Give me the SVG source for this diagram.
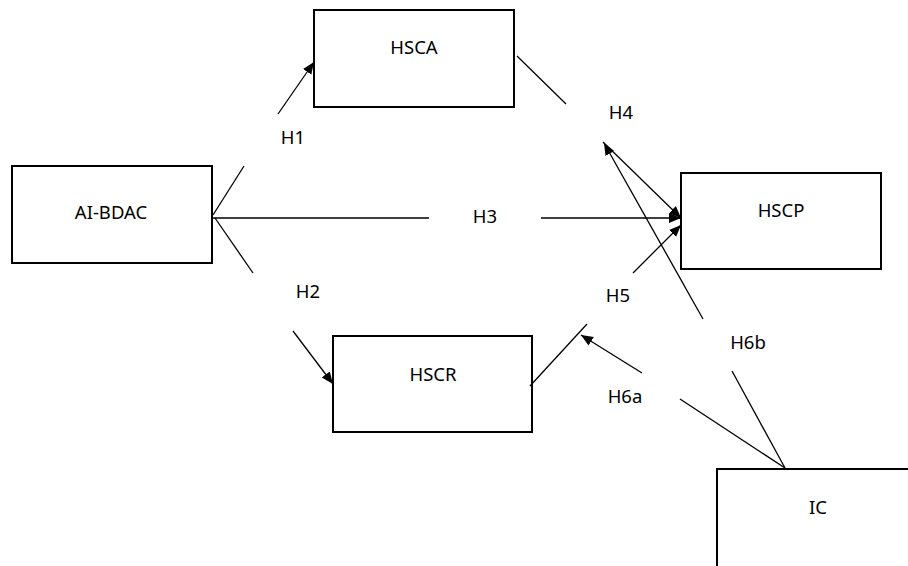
<svg xmlns="http://www.w3.org/2000/svg" width="908" height="566" viewBox="0 0 908 566">
  <style>
    .box { fill: #ffffff; stroke: #000000; stroke-width: 2; }
    .lbl { font-family: "Noto Sans", "Open Sans", "DejaVu Sans", sans-serif; font-size: 18.5px; fill: #000000; text-anchor: middle; }
    .ln { stroke: #000000; stroke-width: 1.3; fill: none; }
    .arr { marker-end: url(#ah); }
  </style>
  <defs>
    <marker id="ah" markerUnits="userSpaceOnUse" markerWidth="13" markerHeight="11" refX="12" refY="5" orient="auto">
      <path d="M0,0 L12,5 L0,10 z" fill="#000000"/>
    </marker>
  </defs>
  <rect width="908" height="566" fill="#ffffff"/>

  <g id="node-AI-BDAC">
    <rect class="box" x="12" y="166" width="200" height="97"/>
    <text class="lbl" x="111" y="219">AI-BDAC</text>
  </g>
  <g id="node-HSCA">
    <rect class="box" x="314" y="10" width="200" height="97"/>
    <text class="lbl" x="414" y="54">HSCA</text>
  </g>
  <g id="node-HSCP">
    <rect class="box" x="681" y="173" width="200" height="96"/>
    <text class="lbl" x="781" y="217">HSCP</text>
  </g>
  <g id="node-HSCR">
    <rect class="box" x="333" y="336" width="199" height="96"/>
    <text class="lbl" x="433" y="381">HSCR</text>
  </g>
  <g id="node-IC">
    <rect class="box" x="717" y="469" width="200" height="110"/>
    <text class="lbl" x="818" y="514">IC</text>
  </g>

  <g id="connectors">
    <!-- H1 -->
    <line class="ln" x1="213" y1="215" x2="244" y2="166"/>
    <line class="ln arr" x1="278" y1="114" x2="314" y2="62"/>
    <text class="lbl" x="293" y="144">H1</text>
    <!-- H2 -->
    <line class="ln" x1="215" y1="218" x2="253" y2="273"/>
    <line class="ln arr" x1="293" y1="331" x2="333" y2="384"/>
    <text class="lbl" x="308" y="298">H2</text>
    <!-- H3 -->
    <line class="ln" x1="213" y1="218" x2="429" y2="218"/>
    <line class="ln arr" x1="541" y1="218" x2="681" y2="218"/>
    <text class="lbl" x="485" y="223">H3</text>
    <!-- H4 -->
    <line class="ln" x1="517" y1="56" x2="566" y2="104"/>
    <line class="ln arr" x1="603" y1="142" x2="681" y2="218"/>
    <text class="lbl" x="621" y="119">H4</text>
    <!-- H5 -->
    <line class="ln" x1="530" y1="386" x2="587" y2="324"/>
    <line class="ln arr" x1="633" y1="273" x2="681" y2="225"/>
    <text class="lbl" x="618" y="302">H5</text>
    <!-- H6a -->
    <line class="ln" x1="785" y1="468" x2="680" y2="399"/>
    <line class="ln arr" x1="642" y1="373" x2="581" y2="335"/>
    <text class="lbl" x="625" y="403">H6a</text>
    <!-- H6b -->
    <line class="ln" x1="785" y1="468" x2="732" y2="371"/>
    <line class="ln arr" x1="703" y1="319" x2="604" y2="143"/>
    <text class="lbl" x="748" y="349">H6b</text>
  </g>
</svg>
